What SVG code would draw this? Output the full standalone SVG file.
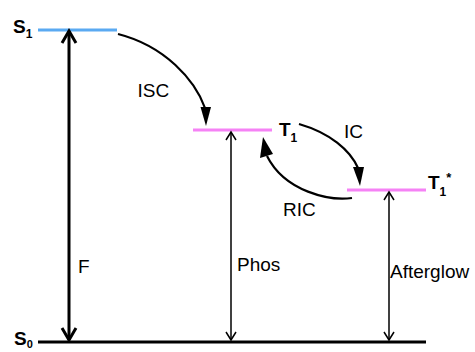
<svg xmlns="http://www.w3.org/2000/svg" width="475" height="352" viewBox="0 0 475 352">
<style>
text{font-family:"Liberation Sans",Arial,sans-serif;font-size:19px;fill:#000}
.b{font-weight:bold}
.lvl{stroke-width:3;fill:none}
.thick{stroke:#000;stroke-width:3;fill:none}
.thin{stroke:#000;stroke-width:1.5;fill:none}
.curve{stroke:#000;stroke-width:2.2;fill:none}
</style>
<defs>
<marker id="ah3" markerUnits="userSpaceOnUse" orient="auto-start-reverse" refX="0" refY="0" viewBox="-14 -9 16 18" markerWidth="16" markerHeight="18" overflow="visible">
<path d="M-12,-7 L0,0 L-12,7" fill="none" stroke="#000" stroke-width="3"/>
</marker>
<marker id="ah1" markerUnits="userSpaceOnUse" orient="auto-start-reverse" refX="0" refY="0" viewBox="-10 -6 12 12" markerWidth="12" markerHeight="12" overflow="visible">
<path d="M-8,-5 L0,0 L-8,5" fill="none" stroke="#000" stroke-width="1.5"/>
</marker>
</defs>
<g id="S1">
<line class="lvl" x1="38" y1="30" x2="117" y2="30" stroke="#5aaaf2"/>
<text class="b" x="13" y="33">S<tspan font-size="12" dy="5">1</tspan></text>
</g>
<g id="T1">
<line class="lvl" x1="193" y1="130" x2="272" y2="130" stroke="#f582f5"/>
<text class="b" x="279" y="136">T<tspan font-size="12" dy="6">1</tspan></text>
</g>
<g id="T1star">
<line class="lvl" x1="347" y1="190" x2="426" y2="190" stroke="#f582f5"/>
<text class="b" x="428" y="189">T<tspan font-size="12" dy="7">1</tspan><tspan font-size="13" dy="-14">*</tspan></text>
</g>
<g id="S0">
<line class="lvl" x1="38" y1="342" x2="426" y2="342" stroke="#000"/>
<text class="b" x="14" y="345">S<tspan font-size="11" dy="3">0</tspan></text>
</g>
<g id="connectors">
<line class="thick" x1="69" y1="31" x2="69" y2="340" marker-start="url(#ah3)" marker-end="url(#ah3)"/>
<line class="thin" x1="231" y1="132" x2="231" y2="340" marker-start="url(#ah1)" marker-end="url(#ah1)"/>
<line class="thin" x1="389" y1="192" x2="389" y2="340" marker-start="url(#ah1)" marker-end="url(#ah1)"/>
<path class="curve" d="M118,34 C165,46 195,80 205,108"/>
<polygon points="200.5,107 211,107 206,126" fill="#000"/>
<path class="curve" d="M299,124 C330,133 350,150 358,168"/>
<polygon points="353,167 364,167 360,186" fill="#000"/>
<path class="curve" d="M352,198 C330,201 285,192 267,156"/>
<polygon points="260,158 273,154 263,137" fill="#000"/>
<text x="137.5" y="97">ISC</text>
<text x="344" y="138">IC</text>
<text x="283" y="216">RIC</text>
<text x="78" y="273">F</text>
<text x="237" y="271">Phos</text>
<text x="390" y="278">Afterglow</text>
</g>
</svg>
